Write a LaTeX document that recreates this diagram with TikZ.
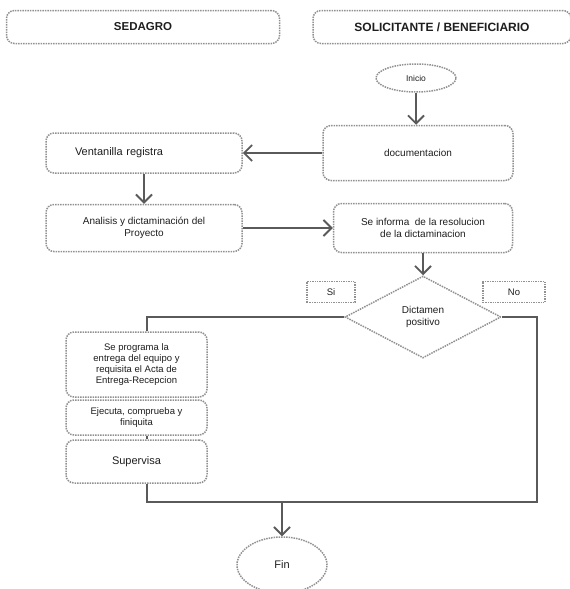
\documentclass[tikz,border=0pt]{standalone}
\usepackage{fontspec}
\setmainfont{Liberation Sans}
\usetikzlibrary{shapes.geometric}
\usetikzlibrary{arrows.meta, positioning}
\definecolor{boxEdge}{RGB}{145,145,145}
\definecolor{lineGray}{RGB}{90,90,90}
\definecolor{textGray}{RGB}{30,30,30}
\tikzset{
    caja/.style={draw=boxEdge, densely dotted, line width=1.5pt, rounded corners=8pt, align=center, text=textGray, inner sep=2pt, font=\fontsize{10}{12}\selectfont},
    encabezado/.style={caja, font=\fontsize{12}{14}\selectfont\bfseries},
    ovalo/.style={ellipse, draw=boxEdge, densely dotted, line width=1.5pt, text=textGray, inner sep=0pt},
    rombo/.style={diamond, draw=boxEdge, densely dotted, line width=1.5pt, align=center, inner sep=0pt, text=textGray, font=\fontsize{10}{12}\selectfont},
    etiqueta/.style={draw=boxEdge, densely dotted, line width=1.4pt, text=textGray, inner sep=0pt, font=\fontsize{9.5}{11}\selectfont},
    flecha/.style={draw=lineGray, line width=1.8pt, -{Straight Barb[length=8pt,width=16pt]}},
    linea/.style={draw=lineGray, line width=1.4pt}
}

\begin{document}
\begin{tikzpicture}[x=1pt, y=-1pt]
    \useasboundingbox (0,0) rectangle (570,589);

    % Encabezados de las columnas
    \node[encabezado, minimum width=273pt, minimum height=33pt, font=\fontsize{11.5}{13}\selectfont\bfseries] (sedagro) at (143,27) {SEDAGRO};
    \node[encabezado, minimum width=258pt, minimum height=33pt] (solicitante) at (442,27) {SOLICITANTE / BENEFICIARIO};

    % Columna del solicitante
    \node[ovalo, minimum width=80pt, minimum height=28pt, font=\fontsize{8.5}{10}\selectfont] (inicio) at (416,78) {Inicio};
    \node[caja, minimum width=190pt, minimum height=55pt] (doc) at (418,153) {documentacion};
    \node[caja, minimum width=179pt, minimum height=49pt] (informa) at (423,228) {Se informa \ de la resolucion\\de la dictaminacion};
    \node[rombo, minimum width=156pt, minimum height=82pt] (dictamen) at (423,317) {Dictamen\\positivo};
    \node[etiqueta, minimum width=48pt, minimum height=21pt] (si) at (331,292) {Si};
    \node[etiqueta, minimum width=62pt, minimum height=21pt] (no) at (514,292) {No};

    % Columna de SEDAGRO
    \node[caja, minimum width=196pt, minimum height=40pt, text width=138pt, inner xsep=29pt, align=left, font=\fontsize{11}{13}\selectfont] (ventanilla) at (144,153) {Ventanilla registra};
    \node[caja, minimum width=196pt, minimum height=47pt] (analisis) at (144,228) {Analisis y dictaminación del\\Proyecto};
    \node[caja, minimum width=141pt, minimum height=65pt, font=\fontsize{9.5}{11}\selectfont] (programa) at (136.5,364.5) {Se programa la\\entrega del equipo y\\requisita el Acta de\\Entrega-Recepcion};
    \node[caja, minimum width=141pt, minimum height=35pt, font=\fontsize{9.5}{11}\selectfont] (ejecuta) at (136.5,417.5) {Ejecuta, comprueba y\\finiquita};
    \node[caja, minimum width=141pt, minimum height=43pt, font=\fontsize{11}{13}\selectfont] (supervisa) at (136.5,461.5) {Supervisa};

    \node[ovalo, minimum width=90pt, minimum height=56pt, font=\fontsize{11}{13}\selectfont] (fin) at (282,565) {Fin};

    % Puntos de quiebre de las lineas
    \coordinate (qizq) at (147,317);
    \coordinate (qder) at (537,317);
    \coordinate (qabajo) at (537,502);

    % Flechas
    \draw[flecha] (inicio.south) -- (inicio.south |- doc.north);
    \draw[flecha] (doc.west) -- (ventanilla.east);
    \draw[flecha] (ventanilla.south) -- (analisis.north);
    \draw[flecha] (analisis.east) -- (informa.west);
    \draw[flecha] (informa.south) -- (dictamen.north);

    % Lineas del dictamen
    \draw[linea] (dictamen.west) -- (qizq) -- (qizq |- programa.north);
    \draw[linea] (qizq |- ejecuta.south) -- (qizq |- supervisa.north);
    \draw[linea] (dictamen.east) -- (qder) -- (qabajo) -- (qizq |- qabajo) -- (qizq |- supervisa.south);
    \draw[flecha] (fin.north |- qabajo) -- (fin.north);
\end{tikzpicture}
\end{document}
